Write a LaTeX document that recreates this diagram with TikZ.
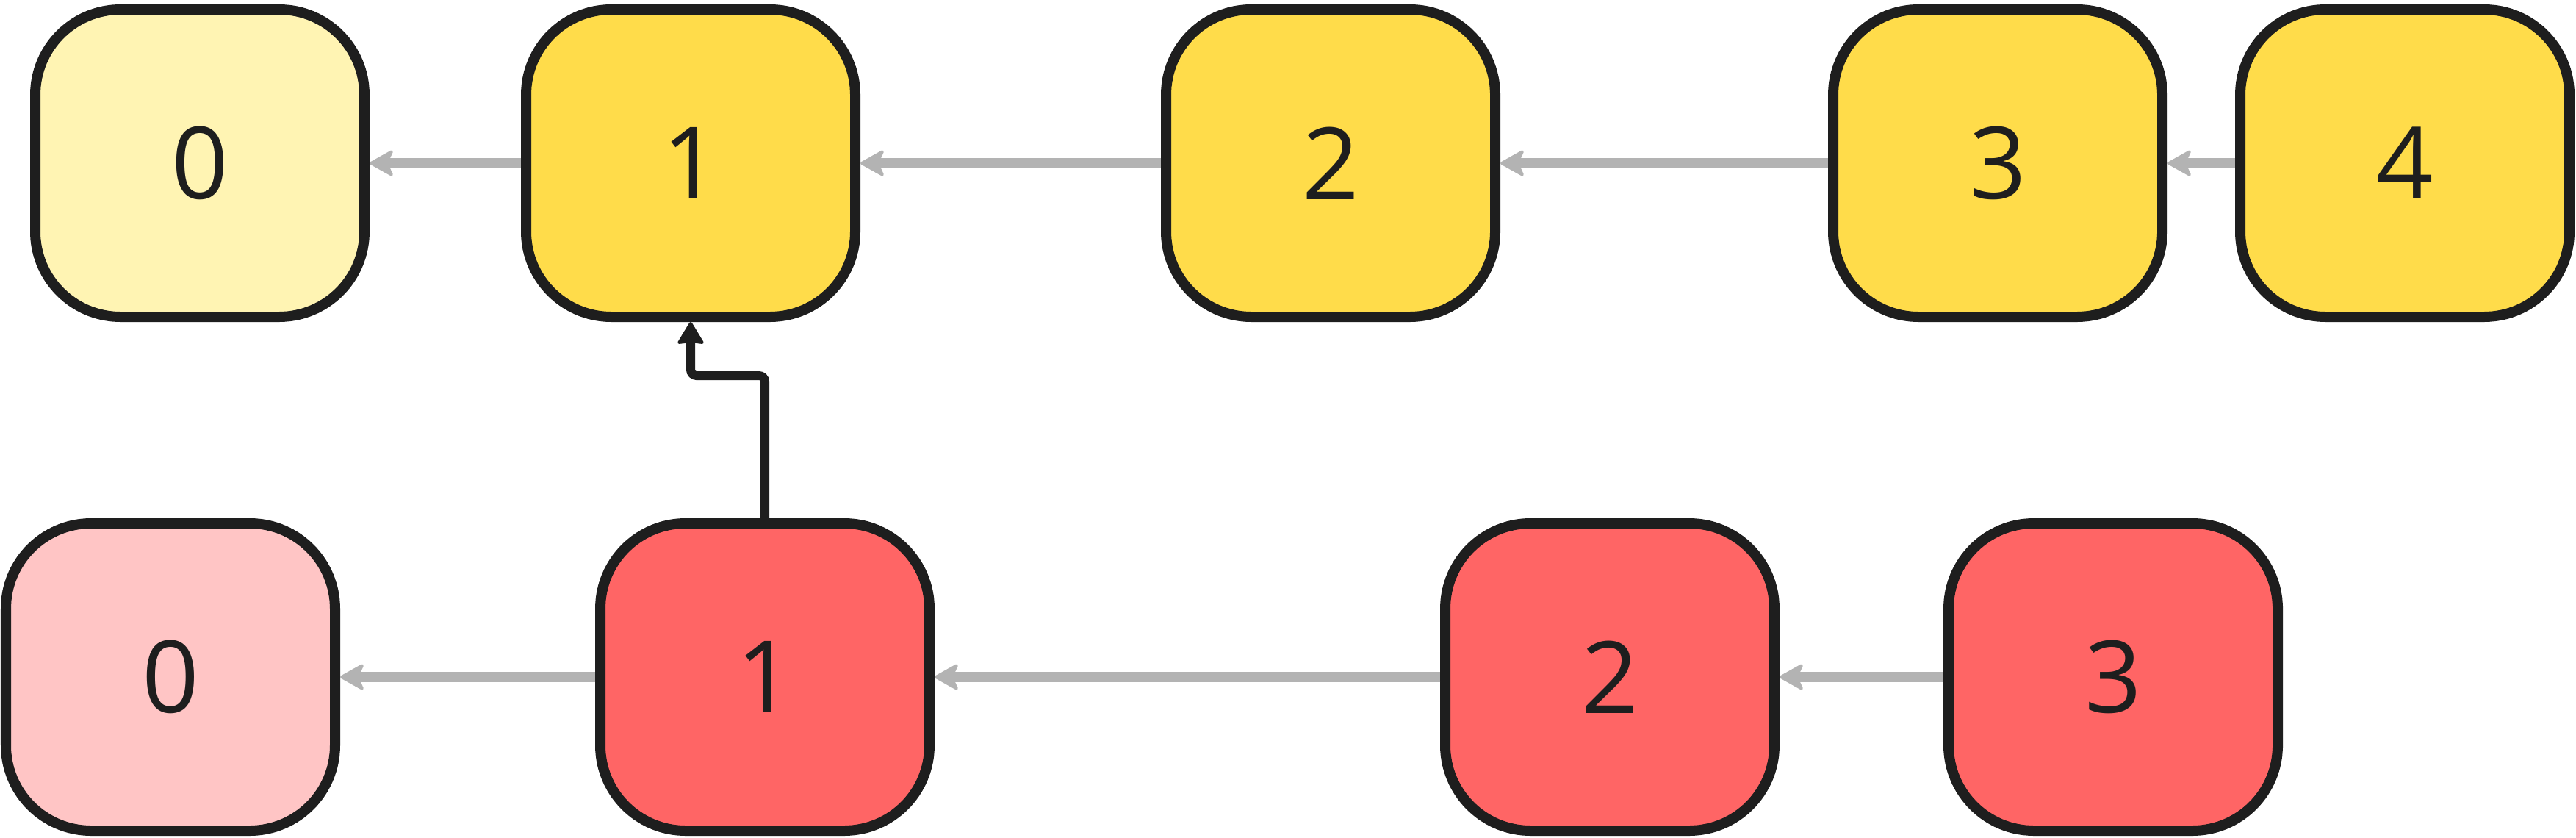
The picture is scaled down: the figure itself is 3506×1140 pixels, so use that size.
\documentclass[tikz,border=0pt]{standalone}
\usepackage{fontspec}
\setmainfont{Open Sans}
\usetikzlibrary{arrows.meta,calc}
\definecolor{ink}{HTML}{1E1E1E}
\definecolor{paleyel}{HTML}{FFF4B3}
\definecolor{yel}{HTML}{FFDC4A}
\definecolor{red}{HTML}{FF6565}
\definecolor{pink}{HTML}{FFC5C5}
\definecolor{arrgray}{HTML}{B3B3B3}
\tikzset{
  cell/.style={draw=ink, line width=7pt, rounded corners=58pt, minimum width=224pt, minimum height=209pt, inner sep=0pt, text=ink, font=\fontsize{68}{80}\selectfont},
  link/.style={draw=arrgray, line width=7pt, -{Stealth[length=18pt,width=20pt,inset=4.5pt,round,line width=2pt]}},
  conn/.style={draw=ink, line width=6pt, rounded corners=4pt, -{Stealth[length=16pt,width=19pt,inset=1pt,round,line width=2pt]}}
}
\begin{document}
\begin{tikzpicture}[x=0.5pt,y=-0.5pt]
\useasboundingbox (0,0) rectangle (3506,1140);
\node[cell, fill=paleyel] (t0) at (272,222) {0};
\node[cell, fill=yel] (t1) at (940,222) {1};
\node[cell, fill=yel] (t2) at (1811,222) {2};
\node[cell, fill=yel] (t3) at (2719,222) {3};
\node[cell, fill=yel] (t4) at (3273,222) {4};
\node[cell, fill=pink] (b0) at (232,921) {0};
\node[cell, fill=red] (b1) at (1041,921) {1};
\node[cell, fill=red] (b2) at (2191,921) {2};
\node[cell, fill=red] (b3) at (2876,921) {3};
\draw[link] (t1.west) -- (t0.east);
\draw[link] (t2.west) -- (t1.east);
\draw[link] (t3.west) -- (t2.east);
\draw[link] (t4.west) -- (t3.east);
\draw[link] (b1.west) -- (b0.east);
\draw[link] (b2.west) -- (b1.east);
\draw[link] (b3.west) -- (b2.east);
\coordinate (bend) at (0,511);
\draw[conn] (b1.north) -- (b1.north |- bend) -- (t1.south |- bend) -- (t1.south);
\end{tikzpicture}
\end{document}
